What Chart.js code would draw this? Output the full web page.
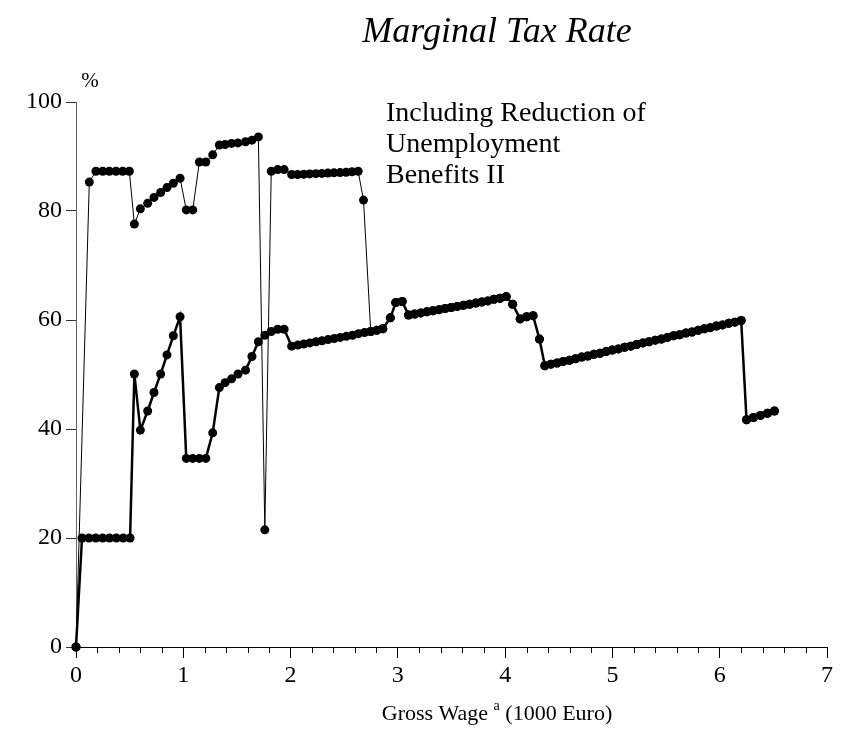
<!DOCTYPE html>
<html>
<head>
<meta charset="utf-8">
<script src="https://cdn.jsdelivr.net/npm/chart.js@4.4.1/dist/chart.umd.min.js"></script>
<style>
  html, body { margin: 0; padding: 0; background: #fff; }
  #wrap { width: 843px; height: 740px; position: relative; }
</style>
</head>
<body>
<div id="wrap"><canvas id="c" width="843" height="740"></canvas></div>
<script>
// ---- Data (x in 1000 Euro, y in %) ----
const chartTitle = "Marginal Tax Rate";
const yUnitLabel = "%";
const xAxisTitleMain = "Gross Wage";
const xAxisTitleSup = "a";
const xAxisTitleTail = "(1000 Euro)";
const annotationLines = ["Including Reduction of", "Unemployment", "Benefits II"];
const xTickValues = [0, 1, 2, 3, 4, 5, 6, 7];
const yTickValues = [0, 20, 40, 60, 80, 100];

// Base series (thick line)
const baseX = [0,
  0.056, 0.12, 0.184, 0.248, 0.312, 0.376, 0.44, 0.504,
  0.544, 0.60, 0.668, 0.727, 0.789, 0.848, 0.907, 0.97,
  1.028, 1.088, 1.15, 1.21,
  1.274, 1.336, 1.39, 1.45, 1.51, 1.58, 1.64, 1.70, 1.76, 1.82, 1.88, 1.94,
  2.01, 2.067, 2.123, 2.18, 2.237, 2.293, 2.35, 2.407, 2.463, 2.52, 2.577, 2.633, 2.69, 2.747, 2.803, 2.86,
  2.93, 2.98, 3.04,
  3.10, 3.157, 3.214, 3.27, 3.327, 3.384, 3.44, 3.497, 3.554, 3.611, 3.668, 3.725, 3.782, 3.838, 3.895, 3.952, 4.01,
  4.07, 4.14, 4.20, 4.26, 4.32,
  4.37, 4.427, 4.484, 4.541, 4.599, 4.656, 4.713, 4.77, 4.827, 4.884, 4.941, 4.999, 5.056, 5.113, 5.17, 5.227,
  5.284, 5.341, 5.399, 5.456, 5.513, 5.57, 5.627, 5.684, 5.741, 5.799, 5.856, 5.913, 5.97, 6.027, 6.084, 6.141, 6.2,
  6.25, 6.315, 6.38, 6.445, 6.51];
const baseY = [0,
  20, 20, 20, 20, 20, 20, 20, 20,
  50.1, 39.8, 43.3, 46.7, 50.1, 53.6, 57.1, 60.6,
  34.6, 34.6, 34.6, 34.6,
  39.3, 47.6, 48.5, 49.2, 50.1, 50.8, 53.3, 56.0, 57.2, 57.9, 58.3, 58.3,
  55.2, 55.4, 55.6, 55.8, 56.0, 56.2, 56.4, 56.6, 56.8, 57.0, 57.2, 57.5, 57.7, 57.9, 58.1, 58.4,
  60.4, 63.2, 63.4,
  60.9, 61.1, 61.3, 61.5, 61.7, 61.9, 62.1, 62.3, 62.5, 62.7, 62.9, 63.1, 63.3, 63.5, 63.8, 64.0, 64.3,
  62.9, 60.2, 60.6, 60.8, 56.5,
  51.6, 51.9, 52.1, 52.4, 52.6, 52.9, 53.2, 53.4, 53.7, 53.9, 54.2, 54.5, 54.7, 55.0, 55.2, 55.5,
  55.8, 56.0, 56.3, 56.5, 56.8, 57.1, 57.3, 57.6, 57.8, 58.1, 58.4, 58.6, 58.9, 59.1, 59.4, 59.6, 59.9,
  41.7, 42.1, 42.5, 42.9, 43.3];

// Including reduction of Unemployment Benefits II (thin line), until it rejoins the base series
const ubX = [0, 0.124, 0.186, 0.249, 0.311, 0.373, 0.435, 0.497,
  0.544, 0.60, 0.668, 0.727, 0.789, 0.848, 0.907, 0.97,
  1.028, 1.088, 1.15, 1.21, 1.274, 1.336, 1.39, 1.45, 1.51, 1.58, 1.64, 1.70,
  1.76, 1.82, 1.88, 1.94,
  2.01, 2.066, 2.123, 2.179, 2.235, 2.292, 2.348, 2.404, 2.461, 2.517, 2.573, 2.63,
  2.68];
const ubY = [0, 85.3, 87.3, 87.3, 87.3, 87.3, 87.3, 87.3,
  77.6, 80.4, 81.4, 82.5, 83.4, 84.3, 85.1, 86.0,
  80.2, 80.2, 89.0, 89.0, 90.3, 92.1, 92.2, 92.4, 92.5, 92.7, 93.0, 93.6,
  21.5, 87.3, 87.6, 87.6,
  86.7, 86.7, 86.75, 86.8, 86.85, 86.9, 86.95, 87.0, 87.05, 87.1, 87.2, 87.3,
  82.0];
const rejoinX = 2.74; // from here the series coincides with the base series

// ---- Build datasets ----
const basePts = baseX.map((x, i) => ({ x: x, y: baseY[i] }));
const ubPts = ubX.map((x, i) => ({ x: x, y: ubY[i] }))
  .concat(basePts.filter(p => p.x >= rejoinX));

const SERIF = '"Liberation Serif", "Times New Roman", serif';

const textPlugin = {
  id: 'texts',
  afterDraw(chart) {
    const ctx = chart.ctx;
    const xs = chart.scales.x, ys = chart.scales.y;
    ctx.save();
    ctx.fillStyle = '#000';
    // title
    ctx.font = 'italic 36px ' + SERIF;
    ctx.textAlign = 'center';
    ctx.textBaseline = 'middle';
    ctx.fillText(chartTitle, 497, 33);
    // % unit
    ctx.font = '21px ' + SERIF;
    ctx.textAlign = 'center';
    ctx.fillText(yUnitLabel, 90, 81);
    // annotation
    ctx.font = '28px ' + SERIF;
    ctx.textAlign = 'left';
    annotationLines.forEach((t, i) => ctx.fillText(t, 386, 114 + i * 31));
    // x-axis title with superscript
    const mainFont = '22px ' + SERIF, supFont = '14px ' + SERIF;
    ctx.font = mainFont;
    const w1 = ctx.measureText(xAxisTitleMain + ' ').width;
    const w3 = ctx.measureText(' ' + xAxisTitleTail).width;
    ctx.font = supFont;
    const w2 = ctx.measureText(xAxisTitleSup).width;
    const total = w1 + w2 + w3;
    let x0 = 497 - total / 2;
    ctx.textAlign = 'left';
    ctx.textBaseline = 'alphabetic';
    ctx.font = mainFont;
    ctx.fillText(xAxisTitleMain + ' ', x0, 720);
    ctx.font = supFont;
    ctx.fillText(xAxisTitleSup, x0 + w1, 710);
    ctx.font = mainFont;
    ctx.fillText(' ' + xAxisTitleTail, x0 + w1 + w2, 720);
    // minor x ticks
    ctx.strokeStyle = '#000';
    ctx.lineWidth = 1;
    const yb = ys.getPixelForValue(0);
    for (let k = 0; k <= 35; k++) {
      if (k % 5 === 0) continue;
      const px = Math.round(xs.getPixelForValue(k * 0.2)) + 0.5;
      ctx.beginPath();
      ctx.moveTo(px, yb);
      ctx.lineTo(px, yb + 6);
      ctx.stroke();
    }
    ctx.restore();
  }
};

new Chart(document.getElementById('c'), {
  type: 'scatter',
  data: {
    datasets: [
      {
        label: 'Base',
        data: basePts,
        showLine: true,
        borderColor: '#000',
        backgroundColor: '#000',
        borderWidth: 2.5,
        pointRadius: 4.5,
        pointBorderWidth: 0,
        pointHoverRadius: 4.5,
        clip: false,
        order: 2
      },
      {
        label: 'Including Reduction of Unemployment Benefits II',
        data: ubPts,
        showLine: true,
        borderColor: '#000',
        backgroundColor: '#000',
        borderWidth: 1,
        pointRadius: 4.5,
        pointBorderWidth: 0,
        pointHoverRadius: 4.5,
        clip: false,
        order: 1
      }
    ]
  },
  options: {
    responsive: false,
    animation: false,
    events: [],
    layout: { padding: { left: 0, top: 102, right: 16, bottom: 0 } },
    plugins: { legend: { display: false }, tooltip: { enabled: false }, title: { display: false } },
    scales: {
      x: {
        type: 'linear',
        min: 0, max: 7,
        afterBuildTicks(scale) { scale.ticks = xTickValues.map(v => ({ value: v })); },
        afterFit(scale) { scale.height = 93; },
        border: { display: true, color: '#000', width: 1 },
        grid: { display: true, drawOnChartArea: false, drawTicks: true, tickLength: 11, color: '#000', lineWidth: 1 },
        ticks: { color: '#000', font: { family: SERIF, size: 24 }, padding: 3, maxRotation: 0 }
      },
      y: {
        type: 'linear',
        min: 0, max: 100,
        afterBuildTicks(scale) { scale.ticks = yTickValues.map(v => ({ value: v })); },
        afterFit(scale) { scale.width = 76; },
        border: { display: true, color: '#666', width: 1 },
        grid: { display: true, drawOnChartArea: false, drawTicks: true, tickLength: 10, color: '#333', lineWidth: 1 },
        ticks: { color: '#000', font: { family: SERIF, size: 24 }, padding: 4 }
      }
    }
  },
  plugins: [textPlugin]
});
</script>
</body>
</html>
